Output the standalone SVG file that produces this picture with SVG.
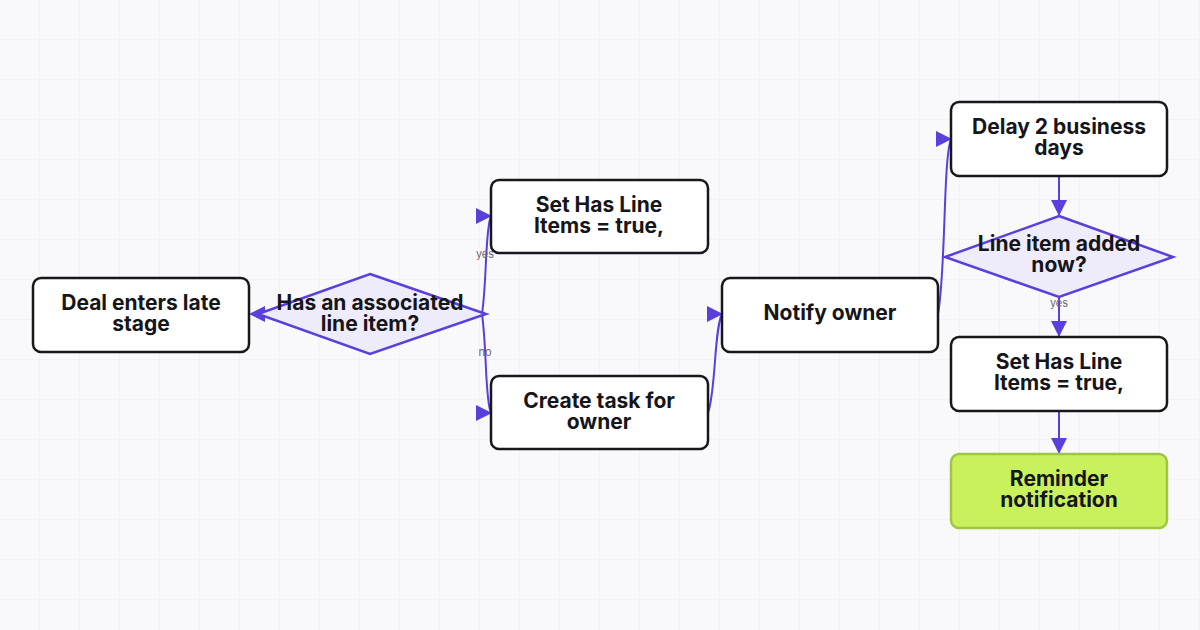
<svg xmlns="http://www.w3.org/2000/svg" width="1200" height="630" viewBox="0 0 1200 630">
<defs>
<pattern id="grid" width="40" height="40" patternUnits="userSpaceOnUse"><path d="M40 0V40M0 40H40" fill="none" stroke="#ebe9f5" stroke-width="1"/></pattern>
<marker id="ah" viewBox="0 0 10 10" refX="10" refY="5" markerWidth="16" markerHeight="16" markerUnits="userSpaceOnUse" orient="auto"><path d="M0,0L10,5L0,10z" fill="#5b3fdc"/></marker>
<style>
.box{fill:#fff;stroke:#17171c;stroke-width:2.5}
.dia{fill:#eeebfb;stroke:#5b3fdc;stroke-width:2.5}
.t{font-family:Inter,"Liberation Sans",sans-serif;font-weight:700;font-size:21px;fill:#15151a;text-anchor:middle}
.c{fill:none;stroke:#5b3fdc;stroke-width:2}
.a{fill:#5b3fdc}
.l{font-family:Inter,"Liberation Sans",sans-serif;font-size:11px;fill:#6b6b78;text-anchor:middle}
</style>
</defs>
<rect width="1200" height="630" fill="#f9f9fc"/>
<rect width="1200" height="630" fill="url(#grid)"/>
<g id="connectors">
<path class="c" d="M258,314 L252,314"/>
<path class="a" d="M249,314 L265,306 L265,322z"/>
<path class="c" d="M482,314 C487,280 485,230 491,216"/>
<path class="a" d="M492,216 L476,208 L476,224z"/>
<path class="c" d="M482,314 C487,350 485,400 491,413"/>
<path class="a" d="M492,413 L476,405 L476,421z"/>
<path class="c" d="M708,413 C716,390 714,330 722,314"/>
<path class="a" d="M723,314 L707,306 L707,322z"/>
<path class="c" d="M938,314 C946,270 943,160 951,139"/>
<path class="a" d="M952,139 L936,131 L936,147z"/>
<path class="c" d="M1059,176 L1059,216" marker-end="url(#ah)"/>
<path class="c" d="M1059,296 L1059,337" marker-end="url(#ah)"/>
<path class="c" d="M1059,411 L1059,454" marker-end="url(#ah)"/>
<text class="l" x="485" y="258">yes</text>
<text class="l" x="485" y="356">no</text>
<text class="l" x="1059" y="307">yes</text>
</g>
<g id="deal"><rect class="box" x="33" y="278" width="216" height="74" rx="8"/><text class="t" x="141" y="310">Deal enters late</text><text class="t" x="141" y="331">stage</text></g>
<g id="has"><path class="dia" d="M370,274 L486,314 L370,354 L258,314z"/><text class="t" x="370" y="310">Has an associated</text><text class="t" x="370" y="331">line item?</text></g>
<g id="set1"><rect class="box" x="491" y="180" width="217" height="73" rx="8"/><text class="t" x="599" y="212">Set Has Line</text><text class="t" x="599" y="233">Items = true,</text></g>
<g id="task"><rect class="box" x="491" y="376" width="217" height="73" rx="8"/><text class="t" x="599" y="408">Create task for</text><text class="t" x="599" y="429">owner</text></g>
<g id="notify"><rect class="box" x="722" y="278" width="216" height="74" rx="8"/><text class="t" x="830" y="320">Notify owner</text></g>
<g id="delay"><rect class="box" x="951" y="102" width="216" height="74" rx="8"/><text class="t" x="1059" y="134">Delay 2 business</text><text class="t" x="1059" y="155">days</text></g>
<g id="added"><path class="dia" d="M1059,216 L1173,257 L1059,297 L945,257z"/><text class="t" x="1059" y="251">Line item added</text><text class="t" x="1059" y="272">now?</text></g>
<g id="set2"><rect class="box" x="951" y="337" width="216" height="74" rx="8"/><text class="t" x="1059" y="369">Set Has Line</text><text class="t" x="1059" y="390">Items = true,</text></g>
<g id="reminder"><rect x="951" y="454" width="216" height="74" rx="8" fill="#c9f15b" stroke="#9fc544" stroke-width="2.5"/><text class="t" x="1059" y="486">Reminder</text><text class="t" x="1059" y="507">notification</text></g>
</svg>
